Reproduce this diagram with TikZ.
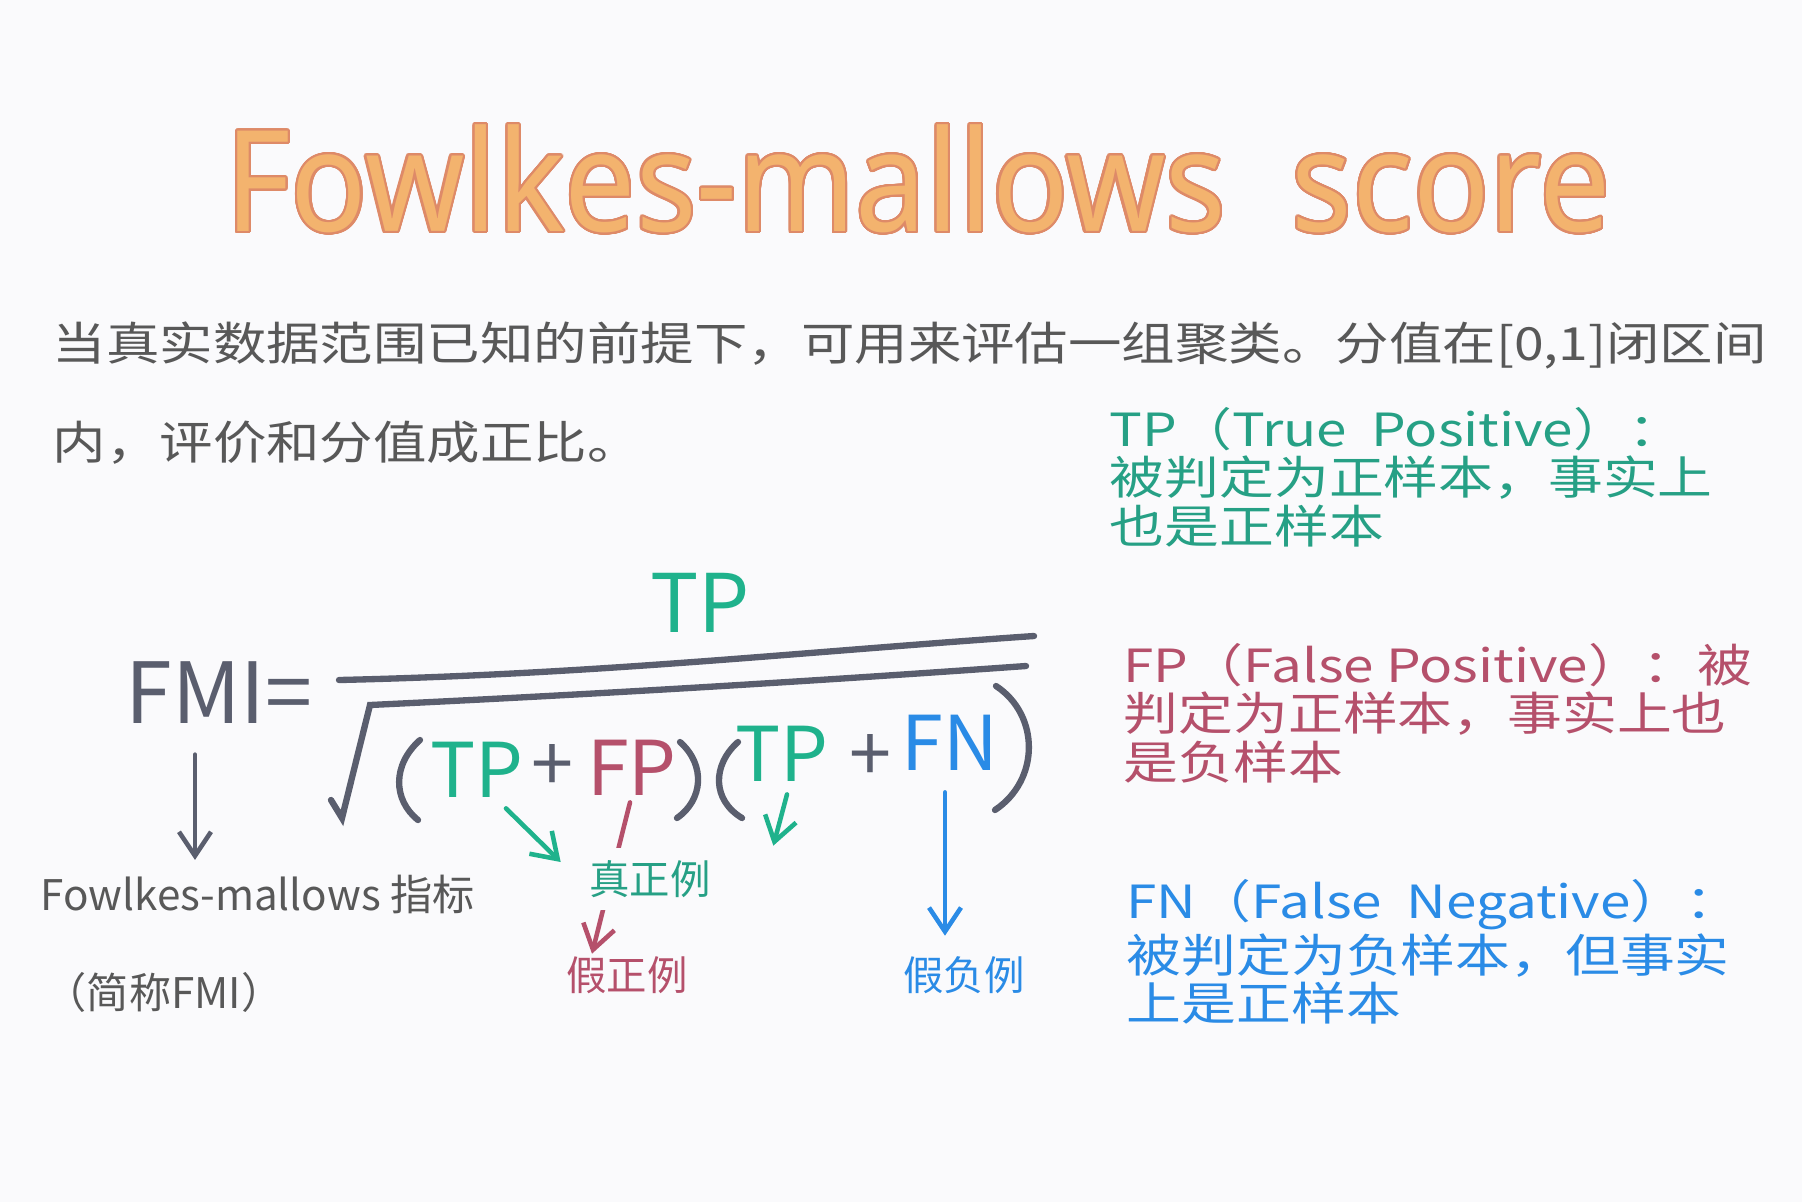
\documentclass[tikz,border=0pt]{standalone}
\usepackage{fontspec}
\usepackage{contour}
\setmainfont{Noto Sans CJK SC}
\newfontfamily\hand[FakeStretch=1.17]{Noto Sans CJK SC}
\newfontfamily\handwide[FakeStretch=1.2]{Noto Sans CJK SC}
\newfontfamily\titlefont[FakeStretch=0.9]{Noto Sans}
\usetikzlibrary{arrows.meta,positioning,calc}
\definecolor{bgpaper}{HTML}{FAFAFC}
\definecolor{inkgray}{HTML}{585858}
\definecolor{inkdark}{HTML}{5A5E6E}
\definecolor{tpgreen}{HTML}{26A085}
\definecolor{tpbright}{HTML}{1FB28C}
\definecolor{fpred}{HTML}{B5506B}
\definecolor{fnblue}{HTML}{2A8BE6}
\definecolor{titlefill}{HTML}{F3B36E}
\definecolor{titleline}{HTML}{DE8A68}
\contourlength{0.6pt}
\contournumber{32}
\tikzset{
  >=Straight Barb,
  body/.style={anchor=west, inner sep=0pt, text=inkgray, font=\hand\fontsize{13}{14}\selectfont},
  note/.style={anchor=west, inner sep=0pt, align=left, font=\handwide\fontsize{13}{13.8}\selectfont},
  term/.style={inner sep=0pt, font=\fontsize{11.5}{13}\selectfont},
  sym/.style={inner sep=0pt, font=\fontsize{21.5}{24}\selectfont},
  ink/.style={line width=1.8pt, line cap=round, draw=inkdark}
}

\begin{document}
\begin{tikzpicture}[x=0.1mm, y=-0.1mm,
        arrow/.style={-{Straight Barb[length=2.4mm,width=3.2mm]}, line width=1.3pt, line cap=round},
        hidden/.style={term, fill=bgpaper, inner sep=1.2mm}
    ]
    \fill[bgpaper] (0,0) rectangle (1802,1202);
    \useasboundingbox (0,0) rectangle (1802,1202);
    % title
    \node[inner sep=0pt, text=titlefill, font=\titlefont\fontsize{40}{44}\selectfont] (title) at (918,180) {\contour{titleline}{Fowlkes-mallows\ \ score}};
    % intro text
    \node[body] (intro1) at (52,345) {当真实数据范围已知的前提下，可用来评估一组聚类。分值在[0,1]闭区间};
    \node[body] (intro2) at (52,443) {内，评价和分值成正比。};
    % notes on the right
    \node[note, text=tpgreen] (tpnote) at (1109,477) {TP（True\ \ Positive）：\\被判定为正样本，事实上\\也是正样本};
    \node[note, text=fpred] (fpnote) at (1123,713) {FP（False Positive）：被\\判定为正样本，事实上也\\是负样本};
    \node[note, text=fnblue] (fnnote) at (1126,952) {FN（False\ \ Negative）：\\被判定为负样本，但事实\\上是正样本};
    % formula
    \node[sym, text=inkdark, font=\fontsize{24}{26}\selectfont] (fmi) at (219,693) {FMI=};
    \node[sym, text=tpbright, font=\fontsize{23}{25}\selectfont] (tpnum) at (700,603) {TP};
    \node[sym, text=tpbright] (tp1) at (477,770) {TP};
    \node[sym, text=inkdark] (plus1) at (552,768) {+};
    \node[sym, text=fpred] (fp) at (632,768) {FP};
    \node[sym, text=tpbright] (tp2) at (782,754) {TP};
    \node[sym, text=inkdark] (plus2) at (870,758) {+};
    \node[sym, text=fnblue] (fn) at (950,743) {FN};
    \draw[ink] (339,680) .. controls (600,674) and (800,652) .. (1034,636);
    \draw[ink] (331,800) -- (342,818) -- (370,705) .. controls (600,694) and (800,682) .. (1026,666);
    \draw[ink] (420,740) .. controls (392,765) and (393,800) .. (418,820);
    \draw[ink] (680,742) .. controls (706,765) and (703,800) .. (677,818);
    \draw[ink] (738,742) .. controls (712,765) and (712,800) .. (742,818);
    \draw[ink] (996,686) .. controls (1040,715) and (1040,780) .. (995,810);
    % labels below
    \node[term, anchor=west, text=inkgray, font=\fontsize{12}{13}\selectfont] (fminame) at (40,894) {Fowlkes-mallows 指标};
    \node[term, anchor=west, text=inkgray, font=\fontsize{12}{13}\selectfont] (fmishort) at (44,992) {（简称FMI）};
    \node[term, text=fpred] (jiazheng) at (627,975) {假正例};
    \node[term, text=fnblue] (jiafu) at (964,975) {假负例};
    \draw[arrow, inkdark] ($(fmi.south)+(-24,30)$) -- ($(fminame.north west)+(155,-14)$);
    \draw[arrow, fpred] ($(fp.south)+(-2,6)$) -- ($(jiazheng.north)+(-35,-2)$);
    \node[hidden, text=tpgreen] (zhen) at (650,879) {真正例};
    \draw[arrow, tpbright] ($(tp1.south)+(29,10)$) -- ($(zhen.west)+(-16,-17)$);
    \draw[arrow, tpbright] ($(tp2.south)+(5,12)$) -- ($(zhen.north east)+(50,-2)$);
    \draw[arrow, fnblue] ($(fn.south)+(-5,21)$) -- ($(jiafu.north)+(-19,-20)$);
\end{tikzpicture}
\end{document}
